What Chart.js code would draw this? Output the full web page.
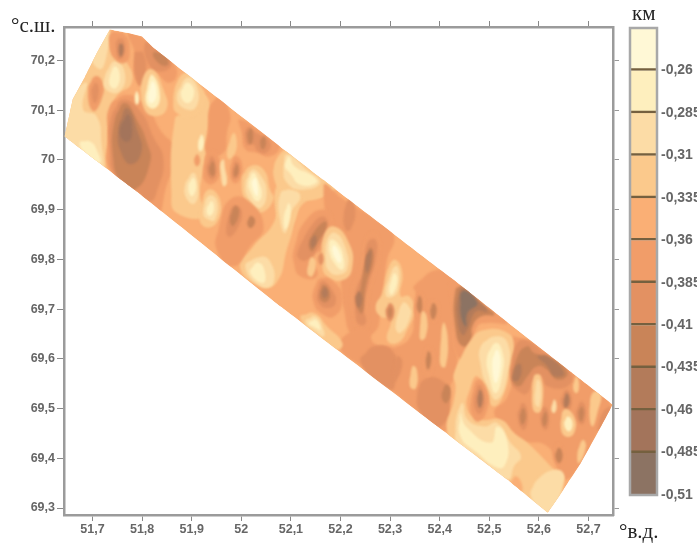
<!DOCTYPE html>
<html><head><meta charset="utf-8">
<style>
html,body{margin:0;padding:0;background:#fff;width:697px;height:543px;overflow:hidden}
canvas{position:absolute;top:0;filter:blur(.6px)}
#map{left:0}#bar{left:620px}
.cap{position:absolute;font:21px "Liberation Serif",serif;color:#222;line-height:normal;white-space:nowrap;filter:blur(.3px)}
</style>
<script src="https://cdn.jsdelivr.net/npm/chart.js@4"></script>
</head><body>
<canvas id="map" width="697" height="543"></canvas>
<canvas id="bar" width="77" height="543"></canvas>
<span class="cap" style="left:11px;top:13px">°с.ш.</span>
<span class="cap" style="left:632px;top:1px">км</span>
<span class="cap" style="left:619px;top:519px">°в.д.</span>
<script>
const lonTicks=[51.7,51.8,51.9,52,52.1,52.2,52.3,52.4,52.5,52.6,52.7];
const latTicks=[70.2,70.1,70,69.9,69.8,69.7,69.6,69.5,69.4,69.3];
const depthTicks=[-0.26,-0.285,-0.31,-0.335,-0.36,-0.385,-0.41,-0.435,-0.46,-0.485,-0.51];
const depthEdges=[-0.235,-0.26,-0.285,-0.31,-0.335,-0.36,-0.385,-0.41,-0.435,-0.46,-0.485,-0.51];
const levelColors=['#fff8d6','#feefbe','#fcdca6','#fbc98c','#faaf75','#f19d69','#e39162','#c98458','#b37b5a','#a3745b','#8c7363'];
const stripLon=[51.735,51.776,51.800,51.822,52.165,52.428,52.664,52.749,52.719,52.685,52.650,52.618,52.537,52.079,51.790,51.644,51.660,51.685,51.709];
const stripLat=[70.262,70.254,70.248,70.226,69.960,69.759,69.574,69.508,69.452,69.391,69.337,69.291,69.357,69.705,69.936,70.047,70.121,70.167,70.215];
const contours=[
[3,51.634,70.041,51.647,70.121,51.695,70.222,51.735,70.272,51.735,70.222,51.769,70.195,51.779,70.155,51.748,70.128,51.735,70.094,51.728,70.014,51.721,69.960,51.674,70.001],
[2,51.641,70.047,51.654,70.114,51.688,70.155,51.681,70.101,51.708,70.088,51.718,70.034,51.718,69.980,51.681,70.014],
[2,51.698,70.212,51.732,70.259,51.728,70.208,51.715,70.182],
[1,51.674,70.034,51.695,70.037,51.711,70.014,51.715,69.994,51.695,70.004],
[5,51.691,70.141,51.705,70.168,51.721,70.155,51.718,70.121,51.701,70.098],
[6,51.698,70.138,51.706,70.155,51.713,70.141,51.705,70.114],
[2,51.725,70.168,51.745,70.198,51.765,70.175,51.755,70.138,51.728,70.141],
[1,51.735,70.168,51.745,70.188,51.755,70.171,51.748,70.145,51.736,70.148],
[5,51.738,70.255,51.765,70.252,51.775,70.215,51.765,70.195,51.745,70.202,51.735,70.228],
[6,51.750,70.242,51.762,70.242,51.765,70.215,51.755,70.202,51.748,70.218],
[8,51.754,70.232,51.761,70.232,51.761,70.212,51.755,70.208],
[5,51.772,70.255,51.799,70.247,51.836,70.215,51.870,70.182,51.856,70.155,51.822,70.175,51.802,70.148,51.785,70.168,51.785,70.215],
[6,51.806,70.235,51.829,70.225,51.859,70.195,51.843,70.178,51.816,70.188],
[7,51.822,70.215,51.843,70.212,51.853,70.192,51.836,70.192],
[6,51.785,70.215,51.802,70.215,51.806,70.168,51.792,70.151],
[5,51.735,70.108,51.769,70.131,51.809,70.108,51.836,70.061,51.870,70.014,51.849,69.947,51.829,69.887,51.789,69.934,51.735,69.980,51.732,70.047],
[6,51.738,70.088,51.762,70.121,51.799,70.094,51.822,70.047,51.843,70.001,51.829,69.934,51.816,69.917,51.789,69.937,51.745,69.970,51.735,70.014],
[7,51.745,70.081,51.765,70.114,51.789,70.081,51.810,70.034,51.816,69.994,51.785,69.940,51.755,69.960,51.742,70.001],
[8,51.752,70.061,51.769,70.104,51.792,70.054,51.799,70.017,51.779,69.991,51.759,70.011],
[9,51.755,70.061,51.772,70.091,51.779,70.047,51.765,70.037],
[3,51.802,70.108,51.799,70.155,51.819,70.182,51.843,70.141,51.849,70.101,51.822,70.088],
[1,51.808,70.114,51.812,70.155,51.821,70.171,51.836,70.131,51.826,70.104],
[0,51.812,70.125,51.821,70.158,51.829,70.131,51.819,70.114],
[1,51.785,70.125,51.789,70.138,51.794,70.121,51.789,70.111],
[3,51.866,70.081,51.883,70.094,51.930,70.128,51.930,70.034,51.923,69.980,51.917,69.927,51.930,69.887,51.870,69.893,51.859,69.934],
[3,51.863,70.121,51.870,70.155,51.890,70.175,51.913,70.155,51.927,70.121,51.903,70.088,51.870,70.094],
[2,51.870,70.125,51.890,70.165,51.910,70.148,51.910,70.108,51.890,70.101],
[1,51.878,70.131,51.890,70.155,51.905,70.138,51.893,70.114],
[2,51.886,69.947,51.903,69.974,51.913,69.947,51.907,69.913,51.893,69.917],
[1,51.893,69.947,51.903,69.964,51.909,69.944,51.900,69.927],
[1,51.913,70.034,51.920,70.051,51.925,70.031,51.917,70.017],
[5,51.905,70.001,51.911,70.011,51.917,69.997,51.910,69.987],
[3,51.917,69.900,51.933,69.940,51.957,69.920,51.950,69.873,51.923,69.867],
[2,51.923,69.893,51.933,69.927,51.950,69.920,51.947,69.880,51.933,69.880],
[1,51.930,69.900,51.940,69.917,51.945,69.900,51.936,69.887],
[5,51.937,70.108,51.954,70.125,51.977,70.094,51.971,70.054,51.964,70.014,51.930,70.014,51.933,70.061],
[5,51.923,69.974,51.933,70.017,51.950,70.014,51.957,69.980,51.947,69.954,51.930,69.954],
[6,51.930,69.980,51.940,70.007,51.950,69.980,51.942,69.960],
[7,51.935,69.980,51.942,69.997,51.947,69.977,51.942,69.967],
[2,51.958,69.994,51.964,70.001,51.967,69.984,51.971,69.954,51.964,69.947,51.959,69.970],
[3,51.971,70.014,51.984,70.054,51.991,70.027,51.977,70.001],
[5,51.977,69.980,51.987,70.007,52.001,69.994,51.997,69.960,51.984,69.954],
[6,51.982,69.977,51.989,69.997,51.997,69.980,51.987,69.960],
[7,51.985,69.977,51.991,69.991,51.994,69.974,51.987,69.966],
[5,51.997,70.081,52.065,70.041,52.078,70.027,52.058,70.007,52.031,70.014,52.008,70.021,52.001,70.054],
[6,52.011,70.064,52.031,70.054,52.058,70.037,52.051,70.014,52.034,70.017,52.024,70.031,52.011,70.031],
[7,52.012,70.051,52.019,70.064,52.024,70.047,52.018,70.031],
[7,52.038,70.037,52.045,70.047,52.050,70.034,52.043,70.021],
[3,52.001,69.960,52.018,69.987,52.045,69.980,52.058,69.940,52.065,69.920,52.038,69.893,52.014,69.907],
[2,52.008,69.950,52.021,69.980,52.038,69.970,52.051,69.934,52.038,69.903,52.018,69.917],
[1,52.014,69.954,52.024,69.974,52.036,69.954,52.041,69.927,52.031,69.917,52.019,69.934],
[0,52.021,69.954,52.028,69.964,52.034,69.940,52.031,69.927],
[3,52.079,69.960,52.166,69.960,52.173,69.933,52.126,69.913,52.106,69.873,52.092,69.846,52.079,69.846],
[3,52.065,69.967,52.071,70.001,52.098,70.021,52.145,69.987,52.193,69.954,52.166,69.927,52.119,69.920,52.085,69.934],
[2,52.085,69.980,52.092,70.011,52.132,69.980,52.159,69.954,52.119,69.940,52.092,69.954],
[1,52.088,69.987,52.096,70.007,52.107,69.987,52.145,69.967,52.152,69.954,52.119,69.950,52.098,69.974],
[3,51.997,69.786,52.024,69.826,52.065,69.873,52.078,69.927,52.112,69.927,52.105,69.867,52.092,69.820,52.071,69.753,52.038,69.746],
[2,52.079,69.933,52.099,69.940,52.119,69.927,52.099,69.893,52.089,69.853,52.079,69.873],
[1,52.086,69.886,52.096,69.913,52.099,69.886,52.089,69.860],
[2,52.008,69.786,52.031,69.803,52.055,69.800,52.065,69.753,52.038,69.746],
[1,52.018,69.773,52.031,69.793,52.045,69.783,52.045,69.753],
[5,51.950,69.820,51.957,69.873,51.977,69.920,52.011,69.920,52.045,69.867,52.018,69.826,51.984,69.786],
[6,51.971,69.873,51.984,69.907,52.001,69.897,51.991,69.860,51.974,69.846],
[7,51.977,69.880,51.987,69.907,51.996,69.897,51.984,69.867],
[7,52.012,69.873,52.019,69.887,52.028,69.877,52.019,69.863],
[5,52.166,69.947,52.207,69.920,52.281,69.873,52.308,69.846,52.294,69.799,52.288,69.752,52.281,69.692,52.267,69.652,52.227,69.645,52.207,69.699,52.200,69.759],
[6,52.207,69.893,52.217,69.920,52.230,69.900,52.220,69.860,52.210,69.860],
[5,52.106,69.819,52.126,69.873,52.166,69.900,52.187,69.873,52.173,69.826,52.146,69.806,52.153,69.766,52.119,69.766,52.106,69.793],
[6,52.113,69.813,52.140,69.866,52.166,69.886,52.173,69.860,52.153,69.819,52.133,69.799,52.119,69.799],
[7,52.136,69.833,52.150,69.860,52.170,69.876,52.170,69.860,52.153,69.833,52.143,69.816],
[8,52.140,69.836,52.148,69.849,52.152,69.836,52.143,69.823],
[3,52.163,69.793,52.166,69.846,52.187,69.866,52.217,69.833,52.224,69.786,52.207,69.759,52.173,69.766],
[2,52.170,69.799,52.173,69.839,52.190,69.853,52.210,69.823,52.214,69.782,52.197,69.769,52.177,69.776],
[1,52.177,69.816,52.180,69.839,52.197,69.829,52.207,69.799,52.204,69.779,52.190,69.789],
[0,52.183,69.819,52.187,69.829,52.200,69.809,52.200,69.793,52.193,69.796],
[3,52.133,69.772,52.140,69.803,52.150,69.796,52.143,69.766],
[6,52.155,69.803,52.161,69.813,52.166,69.799,52.160,69.789],
[5,52.146,69.739,52.160,69.762,52.190,69.752,52.204,69.719,52.187,69.685,52.160,69.692,52.146,69.712],
[6,52.153,69.732,52.163,69.756,52.183,69.739,52.190,69.712,52.173,69.702,52.156,69.712],
[7,52.158,69.732,52.166,69.749,52.179,69.732,52.173,69.715,52.161,69.717],
[8,52.162,69.732,52.168,69.744,52.175,69.732,52.168,69.722],
[5,52.224,69.685,52.220,69.732,52.241,69.793,52.251,69.846,52.274,69.853,52.281,69.806,52.267,69.759,52.257,69.712,52.257,69.665,52.237,69.659],
[6,52.230,69.692,52.230,69.732,52.247,69.779,52.254,69.833,52.271,69.839,52.271,69.799,52.257,69.752,52.247,69.705,52.251,69.672,52.237,69.669],
[7,52.234,69.705,52.241,69.746,52.251,69.799,52.261,69.823,52.266,69.799,52.251,69.746,52.244,69.692],
[8,52.230,69.722,52.237,69.736,52.244,69.722,52.237,69.702],
[8,52.251,69.803,52.261,69.819,52.261,69.793,52.253,69.772],
[5,52.348,69.746,52.395,69.779,52.429,69.759,52.436,69.692,52.429,69.638,52.436,69.585,52.416,69.524,52.422,69.464,52.395,69.457,52.348,69.498,52.301,69.538,52.241,69.585,52.200,69.618,52.207,69.645,52.254,69.659,52.267,69.632,52.294,69.625,52.315,69.625,52.341,69.645,52.348,69.679,52.352,69.732],
[3,52.284,69.732,52.298,69.786,52.311,69.799,52.325,69.772,52.321,69.726,52.338,69.726,52.348,69.699,52.335,69.659,52.315,69.632,52.294,69.638,52.301,69.679,52.281,69.685,52.271,69.705],
[2,52.291,69.729,52.304,69.779,52.315,69.786,52.318,69.752,52.308,69.726],
[1,52.298,69.739,52.308,69.772,52.315,69.759,52.304,69.729],
[2,52.311,69.665,52.325,69.712,52.338,69.705,52.341,69.685,52.321,69.652],
[6,52.291,69.695,52.300,69.712,52.309,69.695,52.300,69.675],
[7,52.296,69.695,52.300,69.705,52.304,69.695,52.300,69.682],
[6,52.241,69.592,52.267,69.625,52.308,69.612,52.311,69.558,52.301,69.538],
[6,52.304,69.565,52.315,69.605,52.325,69.592,52.311,69.555],
[3,52.340,69.545,52.345,69.585,52.354,69.578,52.352,69.541],
[6,52.355,69.531,52.368,69.558,52.402,69.558,52.422,69.524,52.402,69.464,52.362,69.491],
[7,52.404,69.524,52.412,69.548,52.422,69.538,52.414,69.511],
[5,52.348,69.699,52.355,69.732,52.368,69.729,52.368,69.692,52.355,69.685],
[7,52.354,69.702,52.358,69.726,52.364,69.719,52.362,69.692],
[5,52.375,69.692,52.378,69.715,52.395,69.715,52.399,69.685,52.385,69.672],
[7,52.381,69.695,52.387,69.712,52.394,69.699,52.387,69.679],
[3,52.360,69.659,52.365,69.695,52.374,69.685,52.372,69.645,52.362,69.638],
[5,52.365,69.592,52.375,69.625,52.389,69.612,52.385,69.571,52.372,69.565],
[7,52.372,69.595,52.377,69.615,52.383,69.602,52.377,69.578],
[3,52.401,69.612,52.407,69.672,52.416,69.645,52.412,69.585,52.403,69.585],
[3,52.119,69.682,52.146,69.692,52.173,69.665,52.204,69.632,52.193,69.618,52.166,69.632],
[2,52.129,69.675,52.150,69.685,52.166,69.658,52.166,69.645,52.153,69.652],
[1,52.136,69.672,52.150,69.679,52.160,69.658,52.150,69.662],
[5,52.422,69.759,52.456,69.739,52.496,69.705,52.537,69.672,52.496,69.672,52.476,69.665,52.466,69.625,52.449,69.598,52.429,69.618,52.426,69.692],
[7,52.432,69.739,52.446,69.746,52.483,69.712,52.510,69.689,52.483,69.685,52.466,69.665,52.463,69.638,52.446,69.625,52.432,69.659],
[8,52.436,69.719,52.446,69.742,52.476,69.719,52.496,69.695,52.473,69.695,52.456,69.659,52.446,69.648,52.436,69.679],
[10,52.442,69.692,52.446,69.736,52.476,69.712,52.456,69.692,52.453,69.665],
[5,52.543,69.638,52.550,69.645,52.604,69.625,52.671,69.571,52.745,69.508,52.718,69.451,52.678,69.377,52.651,69.357,52.638,69.377,52.617,69.424,52.564,69.437,52.537,69.464,52.510,69.491,52.537,69.524,52.550,69.585],
[3,52.429,69.571,52.463,69.638,52.490,69.658,52.537,69.652,52.550,69.625,52.543,69.585,52.530,69.531,52.510,69.504,52.496,69.524,52.476,69.565,52.463,69.545,52.456,69.498,52.483,69.478,52.523,69.478,52.550,69.451,52.577,69.431,52.631,69.377,52.651,69.357,52.617,69.290,52.537,69.357,52.456,69.417,52.416,69.451,52.429,69.518,52.432,69.545],
[2,52.483,69.625,52.510,69.645,52.537,69.632,52.537,69.571,52.516,69.518,52.496,69.545,52.483,69.585],
[1,52.496,69.605,52.513,69.632,52.527,69.612,52.527,69.571,52.513,69.531,52.500,69.565],
[0,52.506,69.592,52.515,69.618,52.523,69.592,52.513,69.551],
[5,52.463,69.518,52.476,69.558,52.496,69.538,52.496,69.498,52.479,69.474,52.466,69.484],
[6,52.469,69.518,52.479,69.548,52.491,69.524,52.486,69.494,52.476,69.491],
[8,52.476,69.518,52.481,69.538,52.487,69.521,52.481,69.501],
[2,52.436,69.491,52.446,69.511,52.456,69.478,52.490,69.464,52.516,69.471,52.543,69.431,52.564,69.404,52.550,69.384,52.537,69.357,52.483,69.397,52.436,69.431,52.432,69.457],
[1,52.442,69.444,52.442,69.491,52.453,69.464,52.503,69.431,52.516,69.464,52.537,69.431,52.530,69.384,52.510,69.384,52.476,69.411],
[4,52.543,69.350,52.553,69.364,52.565,69.350,52.564,69.330,52.550,69.337],
[2,52.584,69.324,52.597,69.357,52.638,69.377,52.651,69.357,52.617,69.290],
[6,52.543,69.558,52.550,69.618,52.570,69.638,52.611,69.612,52.665,69.571,52.658,69.545,52.617,69.545,52.604,69.565,52.590,69.558,52.577,69.531,52.564,69.531],
[7,52.547,69.558,52.557,69.605,52.577,69.625,52.590,69.612,52.631,69.598,52.658,69.571,52.638,69.558,52.617,69.578,52.597,69.585,52.577,69.565,52.560,69.545],
[8,52.547,69.558,52.553,69.585,52.564,69.588,52.560,69.558],
[8,52.597,69.605,52.617,69.605,52.651,69.571,52.631,69.565,52.617,69.585],
[3,52.587,69.504,52.590,69.565,52.604,69.565,52.607,69.504,52.597,69.491],
[2,52.592,69.511,52.596,69.558,52.603,69.551,52.601,69.504],
[6,52.557,69.484,52.567,69.511,52.578,69.491,52.570,69.457],
[7,52.562,69.484,52.568,69.501,52.574,69.484,52.567,69.468],
[6,52.603,69.478,52.611,69.504,52.621,69.484,52.614,69.457],
[7,52.607,69.478,52.613,69.494,52.617,69.478,52.611,69.464],
[2,52.625,69.498,52.631,69.518,52.636,69.504,52.631,69.491],
[6,52.644,69.511,52.654,69.538,52.666,69.524,52.661,69.498],
[8,52.650,69.514,52.656,69.531,52.662,69.514,52.654,69.501],
[3,52.644,69.464,52.651,69.498,52.671,69.484,52.671,69.451,52.654,69.444],
[1,52.651,69.468,52.658,69.484,52.668,69.471,52.661,69.454],
[3,52.669,69.541,52.675,69.565,52.681,69.551,52.677,69.531],
[6,52.675,69.488,52.685,69.514,52.695,69.498,52.688,69.468],
[7,52.680,69.491,52.686,69.504,52.691,69.491,52.685,69.474],
[3,52.702,69.491,52.708,69.531,52.725,69.531,52.718,69.491,52.708,69.464],
[6,52.718,69.457,52.728,69.491,52.745,69.504,52.742,69.491,52.725,69.457],
[5,52.628,69.404,52.638,69.431,52.652,69.411,52.644,69.384],
[7,52.633,69.405,52.640,69.421,52.648,69.407,52.641,69.390],
[3,52.678,69.411,52.688,69.437,52.695,69.424,52.681,69.390]
];

const tickFont={family:'"Liberation Sans",Arial,sans-serif',size:12.5,weight:'bold'};
const legendFont={family:'"Liberation Sans",Arial,sans-serif',size:14,weight:'bold'};
const comma=v=>String(v).replace('.',',');
const frame={color:'#9b9b9b',width:2.5};
const setTicks=a=>s=>{s.ticks=a.map(v=>({value:v}))};

const sets=[{data:stripLon.map((x,i)=>({x,y:stripLat[i]})),backgroundColor:levelColors[4],showLine:true,tension:0.0001,pointRadius:0,borderWidth:0,order:contours.length+1}];
contours.forEach((c,n)=>{
  const pts=[];
  for(let i=1;i<c.length;i+=2)pts.push({x:c[i],y:c[i+1]});
  sets.push({data:[...pts,pts[0],pts[1]],backgroundColor:levelColors[c[0]],showLine:true,tension:0.5,pointRadius:0,borderWidth:0,order:contours.length-n});
});
const patchPainter={id:'patchPainter',
  beforeDatasetDraw(chart,args){
    const ctx=chart.ctx,line=args.meta.dataset,strip=chart.getDatasetMeta(0).dataset;
    strip.updateControlPoints(chart.chartArea,'x');line.updateControlPoints(chart.chartArea,'x');
    ctx.save();
    ctx.beginPath();strip.path(ctx);ctx.closePath();ctx.clip();
    if(args.index>0)ctx.filter='blur(1.3px)';
    ctx.beginPath();line.path(ctx);ctx.closePath();
    ctx.fillStyle=chart.data.datasets[args.index].backgroundColor;ctx.fill();
    ctx.restore();
    return false;
  }};
new Chart(document.getElementById('map'),{type:'scatter',data:{datasets:sets},plugins:[patchPainter],
 options:{responsive:false,animation:false,events:[],
  plugins:{legend:{display:false},tooltip:{enabled:false}},
  scales:{
   x:{type:'linear',position:'bottom',min:51.6425,max:52.7495,afterBuildTicks:setTicks(lonTicks),afterFit:s=>{s.height=28},
      ticks:{callback:comma,font:tickFont,color:'#666',padding:1,maxRotation:0,autoSkip:false},
      grid:{drawOnChartArea:false,tickLength:6,color:'#888'},border:frame},
   x2:{type:'linear',position:'top',min:51.6425,max:52.7495,afterBuildTicks:setTicks(lonTicks),afterFit:s=>{s.height=27},
      ticks:{display:false},grid:{drawOnChartArea:false,tickLength:6,color:'#888'},border:frame},
   y:{type:'linear',position:'left',min:69.286,max:70.267,afterBuildTicks:setTicks(latTicks),afterFit:s=>{s.width=64},
      ticks:{callback:comma,font:tickFont,color:'#666',padding:2,autoSkip:false},
      grid:{drawOnChartArea:false,tickLength:7,color:'#888'},border:frame},
   y2:{type:'linear',position:'right',min:69.286,max:70.267,afterBuildTicks:setTicks(latTicks),afterFit:s=>{s.width=84},
      ticks:{display:false},grid:{drawOnChartArea:false,tickLength:6,color:'#999'},border:frame}
  }}});

const barFrame={id:'barFrame',afterDatasetsDraw(chart){
  const a=chart.chartArea,c=chart.ctx;c.save();c.strokeStyle='#a8a8a8';c.lineWidth=2.5;
  c.strokeRect(a.left,a.top,a.right-a.left,a.bottom-a.top);c.restore();}};
new Chart(document.getElementById('bar'),{type:'bar',
 data:{labels:['км'],datasets:levelColors.map((col,i)=>({data:[[depthEdges[i+1],depthEdges[i]]],backgroundColor:col,borderColor:'#75603f',borderSkipped:false,borderWidth:{top:0,left:0,right:0,bottom:i<10?2.5:0},barPercentage:1,categoryPercentage:1,grouped:false}))},
 plugins:[barFrame],
 options:{responsive:false,animation:false,events:[],layout:{padding:{left:10,top:28,bottom:48,right:0}},
  plugins:{legend:{display:false},tooltip:{enabled:false}},
  scales:{
   x:{display:false},
   y:{type:'linear',position:'right',min:-0.51,max:-0.235,afterBuildTicks:setTicks(depthTicks),afterFit:s=>{s.width=40},
      ticks:{callback:comma,font:legendFont,color:'#666',padding:4,autoSkip:false},
      grid:{display:false,drawTicks:false},border:{display:false}}
  }}});
</script>
</body></html>
